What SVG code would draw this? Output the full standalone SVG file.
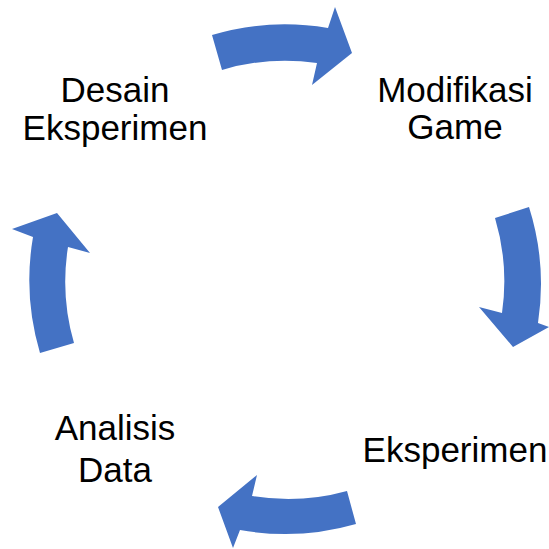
<svg xmlns="http://www.w3.org/2000/svg" width="549" height="549" viewBox="0 0 549 549">
<style>
.arr{fill:#4472C4;stroke:none}
.lbl{font-family:"Liberation Sans",Arial,sans-serif;font-size:35px;fill:#000;text-anchor:middle}
</style>
<rect width="549" height="549" fill="#fff"/>
<g id="connectors">
<path class="arr" d="M212,35 A256,256 0 0 1 328,28 L335,7 L352,53 L312,85 L317,63 A220,220 0 0 0 222,70 Z"/>
<path class="arr" d="M529,207 A256,256 0 0 1 538,323 L549,327 L513,347 L479,307 L502,313 A220,220 0 0 0 495,218 Z"/>
<path class="arr" d="M356,524 A256,256 0 0 1 240,530 L233,548 L218,507 L257,475 L252,496 A220,220 0 0 0 347,491 Z"/>
<path class="arr" d="M40,353 A256,256 0 0 1 33,237 L12,229 L57,213 L90,253 L68,247 A220,220 0 0 0 74,343 Z"/>
</g>
<g id="node-desain">
<text class="lbl" x="115" y="102">Desain</text>
<text class="lbl" x="115" y="140">Eksperimen</text>
</g>
<g id="node-modifikasi">
<text class="lbl" x="455" y="102">Modifikasi</text>
<text class="lbl" x="455" y="139">Game</text>
</g>
<g id="node-eksperimen">
<text class="lbl" x="455" y="462">Eksperimen</text>
</g>
<g id="node-analisis">
<text class="lbl" x="115" y="440">Analisis</text>
<text class="lbl" x="115" y="482">Data</text>
</g>
</svg>
